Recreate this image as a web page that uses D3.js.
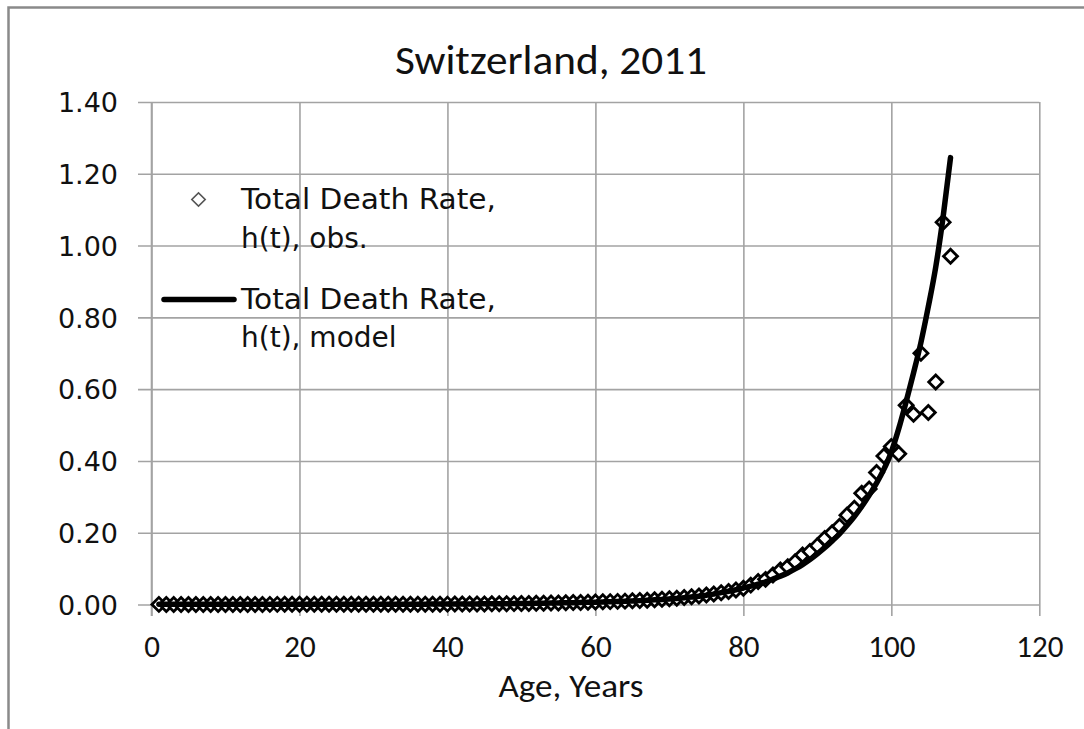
<!DOCTYPE html>
<html>
<head>
<meta charset="utf-8">
<script src="https://cdn.jsdelivr.net/npm/d3@7"></script>
<style>
  html, body { margin: 0; padding: 0; background: #fff; }
  svg { display: block; }
</style>
</head>
<body>
<svg id="chart" width="1084" height="729"></svg>
<script>
// ---------------- data ----------------
const title = "Switzerland, 2011";
const xTitle = "Age, Years";
const legendObs = ["Total Death Rate,", "h(t), obs."];
const legendModel = ["Total Death Rate,", "h(t), model"];
const xTicks = [0, 20, 40, 60, 80, 100, 120];
const yTicks = [0, 0.2, 0.4, 0.6, 0.8, 1.0, 1.2, 1.4];

const ages = [
  1,2,3,4,5,6,7,8,9,10,11,12,13,14,15,16,17,18,19,20,
  21,22,23,24,25,26,27,28,29,30,31,32,33,34,35,36,37,38,39,40,
  41,42,43,44,45,46,47,48,49,50,51,52,53,54,55,56,57,58,59,60,
  61,62,63,64,65,66,67,68,69,70,71,72,73,74,75,76,77,78,79,80,
  81,82,83,84,85,86,87,88,89,90,91,92,93,94,95,96,97,98,99,100,
  101,102,103,104,105,106,107,108
];
const observed = [
  0.0003,0.0002,0.0001,0.0001,0.0001,0.0001,0.0001,0.0001,0.0001,0.0001,
  0.0001,0.0001,0.0001,0.0002,0.0002,0.0003,0.0004,0.0005,0.0005,0.0005,
  0.0005,0.0005,0.0005,0.0005,0.0005,0.0005,0.0005,0.0005,0.0005,0.0005,
  0.0006,0.0006,0.0006,0.0006,0.0007,0.0007,0.0008,0.0008,0.0009,0.0010,
  0.0011,0.0012,0.0013,0.0015,0.0016,0.0018,0.0020,0.0022,0.0024,0.0027,
  0.0030,0.0033,0.0036,0.0040,0.0044,0.0048,0.0053,0.0058,0.0063,0.0068,
  0.0074,0.0080,0.0087,0.0094,0.0102,0.0111,0.0121,0.0132,0.0145,0.0160,
  0.0176,0.0194,0.0214,0.0237,0.0263,0.0292,0.0325,0.0362,0.0404,0.045,
  0.054,0.064,0.070,0.082,0.096,0.105,0.119,0.138,0.148,0.164,
  0.184,0.200,0.218,0.249,0.268,0.310,0.322,0.368,0.414,0.440,
  0.420,0.555,0.530,0.700,0.535,0.620,1.065,0.970
];
const model = [
  0.0004,0.0004,0.0004,0.0004,0.0004,0.0004,0.0004,0.0004,0.0004,0.0004,
  0.0004,0.0004,0.0004,0.0004,0.0004,0.0004,0.0005,0.0005,0.0005,0.0005,
  0.0005,0.0005,0.0005,0.0005,0.0006,0.0006,0.0006,0.0006,0.0006,0.0007,
  0.0007,0.0007,0.0008,0.0008,0.0009,0.0009,0.0010,0.0011,0.0011,0.0012,
  0.0013,0.0014,0.0015,0.0017,0.0018,0.0020,0.0022,0.0024,0.0026,0.0028,
  0.0031,0.0034,0.0037,0.0040,0.0044,0.0048,0.0052,0.0057,0.0062,0.0066,
  0.0071,0.0077,0.0084,0.0091,0.0099,0.0108,0.0118,0.0129,0.0141,0.0152,
  0.0170,0.0190,0.0210,0.0230,0.0260,0.0290,0.0330,0.0370,0.0410,0.0460,
  0.051,0.057,0.063,0.071,0.079,0.088,0.099,0.111,0.125,0.141,
  0.158,0.177,0.197,0.220,0.245,0.273,0.304,0.338,0.377,0.425,
  0.490,0.565,0.645,0.730,0.830,0.940,1.080,1.245
];

// ---------------- layout ----------------
(function () {
const svg = d3.select("#chart");
const pL = 151.5, pR = 1039.3, pT = 102, pB = 604.5;
const x = d3.scaleLinear().domain([0, 120]).range([pL, pR]);
const y = d3.scaleLinear().domain([0, 1.4]).range([pB, pT]);
const gridColor = "#a3a3a3";
const narrow = "Carlito, 'Liberation Sans Narrow', 'Roboto Condensed', Roboto, sans-serif";
const wide = "'DejaVu Sans', Verdana, sans-serif";

// outer frame (top + left edges visible)
svg.append("path")
  .attr("d", "M8.5,729 L8.5,7.5 L1084,7.5")
  .attr("fill", "none").attr("stroke", "#8a8a8a").attr("stroke-width", 2.5);

// y axis with gridlines
const yAxisG = svg.append("g")
  .attr("transform", `translate(138,0)`)
  .call(d3.axisLeft(y).tickValues(yTicks).tickFormat(d3.format(".2f"))
        .tickSize(-(pR - 138)).tickPadding(20));
yAxisG.select(".domain").remove();
yAxisG.selectAll(".tick line").attr("stroke", gridColor).attr("stroke-width", 1.6);
yAxisG.selectAll(".tick text")
  .attr("font-family", wide).attr("font-size", 27).attr("fill", "#111")
  .attr("dy", "0.36em");

// x axis with gridlines
const xAxisG = svg.append("g")
  .attr("transform", `translate(0,616)`)
  .call(d3.axisBottom(x).tickValues(xTicks).tickFormat(d3.format("d"))
        .tickSize(-(616 - pT)).tickPadding(0));
xAxisG.select(".domain").remove();
xAxisG.selectAll(".tick line").attr("stroke", gridColor).attr("stroke-width", 1.6);
xAxisG.selectAll(".tick text")
  .attr("font-family", narrow).attr("font-size", 31).attr("fill", "#111")
  .attr("dy", null).attr("y", 41);

// y axis line
svg.append("line")
  .attr("x1", pL).attr("x2", pL).attr("y1", pT).attr("y2", 616)
  .attr("stroke", gridColor).attr("stroke-width", 1.6);

// title
svg.append("text")
  .attr("x", 551).attr("y", 74).attr("text-anchor", "middle")
  .attr("font-family", narrow).attr("font-size", 42).attr("fill", "#111")
  .attr("textLength", 312).attr("lengthAdjust", "spacingAndGlyphs")
  .text(title);

// x axis title
svg.append("text")
  .attr("x", 571).attr("y", 697).attr("text-anchor", "middle")
  .attr("font-family", narrow).attr("font-size", 33).attr("fill", "#111")
  .attr("textLength", 145).attr("lengthAdjust", "spacingAndGlyphs")
  .text(xTitle);

// observed diamonds
const obsData = ages.map((a, i) => ({ age: a, v: observed[i] }));
const diamond = d3.symbol().type(d3.symbolSquare).size(98);
svg.append("g").selectAll("path")
  .data(obsData).join("path")
  .attr("d", diamond)
  .attr("transform", d => `translate(${x(d.age)},${y(d.v)}) rotate(45)`)
  .attr("fill", "#fff").attr("stroke", "#000").attr("stroke-width", 2.8);

// model line
const modelData = ages.map((a, i) => ({ age: a, v: model[i] }));
svg.append("path")
  .datum(modelData)
  .attr("d", d3.line().x(d => x(d.age)).y(d => y(d.v)).curve(d3.curveMonotoneX))
  .attr("fill", "none").attr("stroke", "#000").attr("stroke-width", 5.5)
  .attr("stroke-linejoin", "round").attr("stroke-linecap", "round");

// legend
const lg = svg.append("g");
lg.append("path")
  .attr("d", d3.symbol().type(d3.symbolSquare).size(90)())
  .attr("transform", "translate(198.5,199.5) rotate(45)")
  .attr("fill", "#fff").attr("stroke", "#555").attr("stroke-width", 1.6);
lg.append("line")
  .attr("x1", 164).attr("x2", 234).attr("y1", 299.5).attr("y2", 299.5)
  .attr("stroke", "#000").attr("stroke-width", 5.5).attr("stroke-linecap", "round");
const legendRows = [
  { t: legendObs[0], y: 209, w: 255 },
  { t: legendObs[1], y: 248 },
  { t: legendModel[0], y: 309, w: 255 },
  { t: legendModel[1], y: 347 }
];
legendRows.forEach(r => {
  const t = lg.append("text")
    .attr("x", 241).attr("y", r.y)
    .attr("font-family", wide).attr("font-size", 28).attr("fill", "#111")
    .text(r.t);
  if (r.w) t.attr("textLength", r.w).attr("lengthAdjust", "spacingAndGlyphs");
});
})();
</script>
</body>
</html>
